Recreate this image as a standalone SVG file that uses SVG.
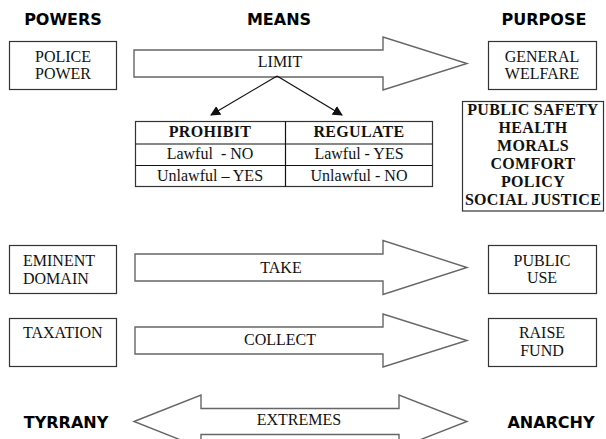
<svg xmlns="http://www.w3.org/2000/svg" width="606" height="439" viewBox="0 0 606 439">
<defs>
<style>
.hdr{font-family:"DejaVu Sans",Verdana,sans-serif;font-weight:bold;font-size:16px;fill:#000;text-anchor:middle}
.box{fill:#fff;stroke:#333;stroke-width:1.2}
.arr{fill:#fff;stroke:#666;stroke-width:1.4}
.t{font-family:"Liberation Serif","Times New Roman",serif;font-size:16px;fill:#111;text-anchor:middle}
.tl{font-family:"Liberation Serif","Times New Roman",serif;font-size:16px;fill:#111}
.b{font-family:"Liberation Serif","Times New Roman",serif;font-size:16px;font-weight:bold;fill:#111;text-anchor:middle;letter-spacing:0.3px}
.ln{stroke:#111;stroke-width:1.2;fill:none}
</style>
<marker id="ah" viewBox="0 0 10 10" refX="9" refY="5" markerWidth="10" markerHeight="10" markerUnits="userSpaceOnUse" orient="auto">
<path d="M0,0 L10,5 L0,10 Z" fill="#111"/>
</marker>
</defs>
<rect width="606" height="439" fill="#fff"/>

<g id="headers">
<text class="hdr" x="63" y="25">POWERS</text>
<text class="hdr" x="279" y="25">MEANS</text>
<text class="hdr" x="544" y="25">PURPOSE</text>
<text class="hdr" x="66" y="428">TYRRANY</text>
<text class="hdr" x="551" y="428">ANARCHY</text>
</g>

<g id="police-power">
<rect class="box" x="9.5" y="41.5" width="107" height="48"/>
<text class="t" x="63" y="62">POLICE</text>
<text class="t" x="63" y="79">POWER</text>
</g>

<g id="limit">
<path class="arr" d="M134,50 H383 V37 L467,63.5 L383,90 V77 H134 Z"/>
<text class="t" x="280" y="67">LIMIT</text>
</g>

<g id="general-welfare">
<rect class="box" x="488.5" y="41.5" width="108" height="48"/>
<text class="t" x="542" y="62">GENERAL</text>
<text class="t" x="542" y="79">WELFARE</text>
</g>

<g id="table">
<rect class="box" x="135.5" y="121.5" width="297" height="65"/>
<line class="ln" x1="285.5" y1="121.5" x2="285.5" y2="186.5" stroke="#333"/>
<line class="ln" x1="135.5" y1="144" x2="432.5" y2="144"/>
<line class="ln" x1="135.5" y1="165.5" x2="432.5" y2="165.5"/>
<text class="b" x="210" y="137">PROHIBIT</text>
<text class="b" x="359" y="137">REGULATE</text>
<text class="t" x="210" y="159" xml:space="preserve">Lawful  - NO</text>
<text class="t" x="359" y="159">Lawful - YES</text>
<text class="t" x="210" y="181">Unlawful – YES</text>
<text class="t" x="359" y="181">Unlawful - NO</text>
</g>

<g id="purposes-list">
<rect class="box" x="462.5" y="101.5" width="141" height="109.5"/>
<text class="b" x="533" y="115">PUBLIC SAFETY</text>
<text class="b" x="533" y="133">HEALTH</text>
<text class="b" x="533" y="151">MORALS</text>
<text class="b" x="533" y="169">COMFORT</text>
<text class="b" x="533" y="187">POLICY</text>
<text class="b" x="533" y="205">SOCIAL JUSTICE</text>
</g>

<g id="eminent-domain">
<rect class="box" x="9.5" y="245.5" width="107" height="48"/>
<text class="tl" x="23" y="266">EMINENT</text>
<text class="tl" x="23" y="284">DOMAIN</text>
</g>

<g id="take">
<path class="arr" d="M135,254 H383 V240.5 L467,267.5 L383,294.5 V281 H135 Z"/>
<text class="t" x="281" y="273">TAKE</text>
</g>

<g id="public-use">
<rect class="box" x="488.5" y="245.5" width="108" height="48"/>
<text class="t" x="542" y="266">PUBLIC</text>
<text class="t" x="542" y="283">USE</text>
</g>

<g id="taxation">
<rect class="box" x="9.5" y="318.5" width="107" height="48"/>
<text class="tl" x="23" y="338">TAXATION</text>
</g>

<g id="collect">
<path class="arr" d="M135,327 H383 V314 L467,340.5 L383,367 V354 H135 Z"/>
<text class="t" x="280" y="345">COLLECT</text>
</g>

<g id="raise-fund">
<rect class="box" x="488.5" y="318.5" width="108" height="48"/>
<text class="t" x="542" y="338">RAISE</text>
<text class="t" x="542" y="356">FUND</text>
</g>

<g id="extremes">
<path class="arr" d="M134,421.5 L201,395 V408.5 H399 V395 L467,421.5 L399,448 V434.5 H201 V448 Z"/>
<text class="t" x="299" y="425">EXTREMES</text>
</g>

<g id="connectors">
<line class="ln" x1="277" y1="76" x2="211" y2="115" marker-end="url(#ah)"/>
<line class="ln" x1="277" y1="76" x2="342" y2="115" marker-end="url(#ah)"/>
</g>
</svg>
